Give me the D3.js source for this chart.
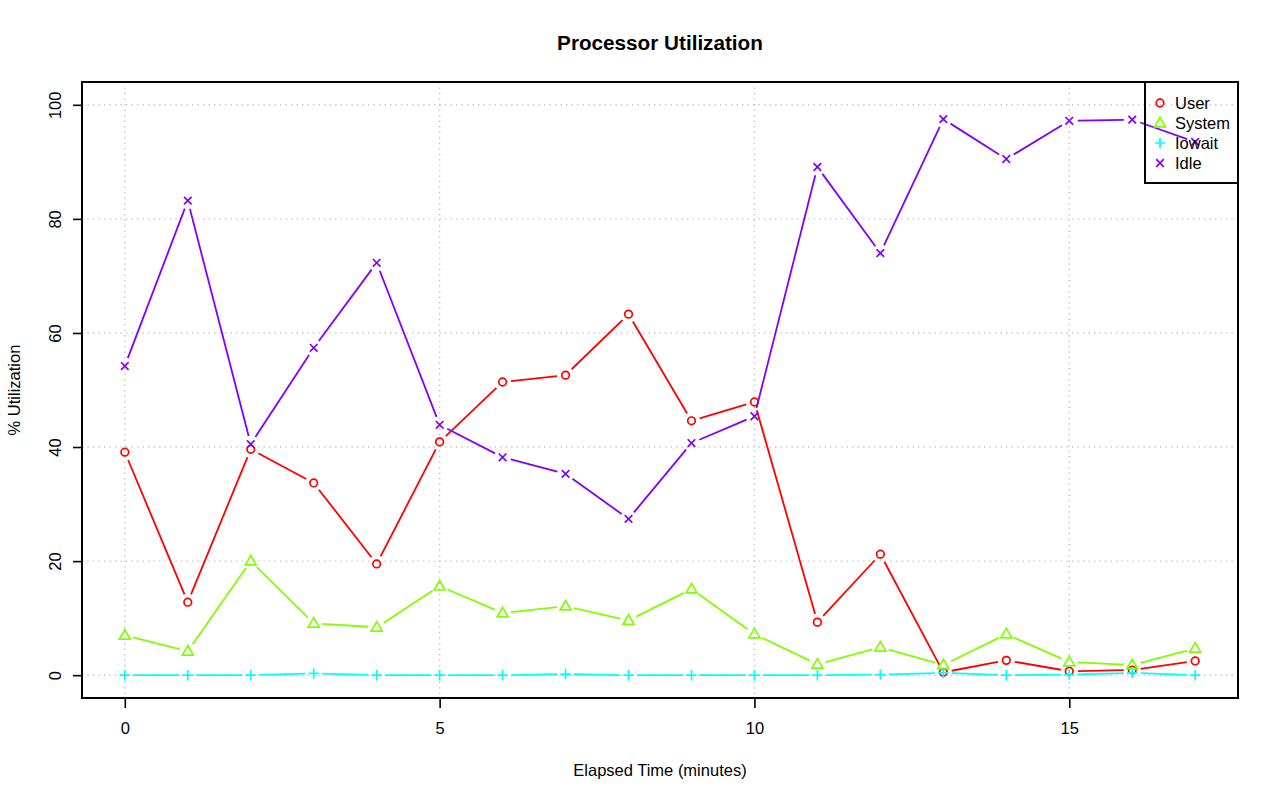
<!DOCTYPE html>
<html>
<head>
<meta charset="utf-8">
<script src="https://cdn.jsdelivr.net/npm/d3@7"></script>
<style>
  html, body { margin: 0; padding: 0; background: #fff; }
  svg { display: block; font-family: "Liberation Sans", Arial, Helvetica, sans-serif; }
</style>
</head>
<body>
<svg id="chart" width="1280" height="801"></svg>
<script>
const minutes = [0,1,2,3,4,5,6,7,8,9,10,11,12,13,14,15,16,17];
const userVals   = [39.1,12.8,39.6,33.7,19.5,40.9,51.4,52.6,63.3,44.6,47.9,9.3,21.2,0.5,2.6,0.7,0.9,2.5];
const systemVals = [7.0,4.2,20.0,9.1,8.4,15.6,10.9,12.1,9.6,15.1,7.2,1.9,4.9,1.8,7.2,2.3,1.8,4.7];
const iowaitVals = [0.0,0.0,0.0,0.3,0.0,0.0,0.0,0.2,0.0,0.0,0.0,0.0,0.1,0.4,0.0,0.1,0.4,0.0];
const idleVals   = [54.2,83.2,40.5,57.4,72.3,43.9,38.2,35.3,27.4,40.7,45.4,89.1,74.0,97.5,90.5,97.2,97.4,93.5];
const seriesNames = ["User","System","Iowait","Idle"];
const seriesColors = ["#FF0000","#80FF00","#00FFFF","#8000FF"];
const seriesShapes = ["circle","triangle","plus","cross"];
const xTicks = [0,5,10,15];
const yTicks = [0,20,40,60,80,100];

const series = [userVals, systemVals, iowaitVals, idleVals].map((vals, i) => ({
  name: seriesNames[i], color: seriesColors[i], shape: seriesShapes[i],
  points: minutes.map((m, j) => ({x: m, y: vals[j]}))
}));

const svg = d3.select("#chart");
const L = 82, R = 1238, T = 82, B = 698;

const x = d3.scaleLinear().domain([-0.68, 17.68]).range([L, R]);
const y = d3.scaleLinear().domain([-4, 104]).range([B, T]);

// grid
const grid = svg.append("g");
grid.selectAll("line.gx").data(xTicks).join("line")
  .attr("x1", d => x(d)).attr("x2", d => x(d)).attr("y1", T).attr("y2", B)
  .attr("stroke", "#c8c8c8").attr("stroke-width", 1.4).attr("stroke-dasharray", "1.4,4.1");
grid.selectAll("line.gy").data(yTicks).join("line")
  .attr("x1", L).attr("x2", R).attr("y1", d => y(d)).attr("y2", d => y(d))
  .attr("stroke", "#c8c8c8").attr("stroke-width", 1.4).attr("stroke-dasharray", "1.4,4.1");

// axes
const xAxis = svg.append("g").attr("transform", `translate(0,${B})`)
  .call(d3.axisBottom(x).tickValues(xTicks).tickSize(10).tickPadding(14).tickFormat(d3.format("d")));
xAxis.select(".domain").remove();
xAxis.selectAll("line").attr("stroke", "#000").attr("stroke-width", 1.6);
xAxis.selectAll("text").attr("font-size", 16.5).attr("fill", "#000").attr("font-family", "Liberation Sans, Arial, sans-serif");

const yAxis = svg.append("g").attr("transform", `translate(${L},0)`)
  .call(d3.axisLeft(y).tickValues(yTicks).tickSize(9).tickFormat(d3.format("d")));
yAxis.select(".domain").remove();
yAxis.selectAll("line").attr("stroke", "#000").attr("stroke-width", 1.6);
yAxis.selectAll("text")
  .attr("font-size", 16.5).attr("fill", "#000").attr("font-family", "Liberation Sans, Arial, sans-serif")
  .attr("x", 0).attr("dy", null)
  .attr("text-anchor", "middle")
  .attr("dominant-baseline", "central")
  .attr("transform", "translate(-27,0) rotate(-90)");

// series lines with gaps (R type="b")
const gap = 8.5;
const lineG = svg.append("g");
series.forEach(s => {
  const segs = [];
  for (let i = 0; i < s.points.length - 1; i++) {
    const x1 = x(s.points[i].x), y1 = y(s.points[i].y);
    const x2 = x(s.points[i+1].x), y2 = y(s.points[i+1].y);
    const len = Math.hypot(x2 - x1, y2 - y1);
    if (len > 2 * gap) {
      const ux = (x2 - x1) / len, uy = (y2 - y1) / len;
      segs.push([x1 + ux * gap, y1 + uy * gap, x2 - ux * gap, y2 - uy * gap]);
    }
  }
  lineG.append("g").selectAll("line").data(segs).join("line")
    .attr("x1", d => d[0]).attr("y1", d => d[1]).attr("x2", d => d[2]).attr("y2", d => d[3])
    .attr("stroke", s.color).attr("stroke-width", 1.8);
  drawPoints(lineG.append("g"), s.points.map(p => [x(p.x), y(p.y)]), s.shape, s.color);
});

function drawPoints(g, pts, shape, color) {
  pts.forEach(([px, py]) => drawSymbol(g, px, py, shape, color));
}
function drawSymbol(g, px, py, shape, color) {
  const sw = 1.7;
  if (shape === "circle") {
    g.append("circle").attr("cx", px).attr("cy", py).attr("r", 3.8)
      .attr("fill", "none").attr("stroke", color).attr("stroke-width", sw);
  } else if (shape === "triangle") {
    const h = 9.5, w = 11;
    g.append("path").attr("d", `M${px},${py - h*0.6} L${px + w/2},${py + h*0.4} L${px - w/2},${py + h*0.4} Z`)
      .attr("fill", "none").attr("stroke", color).attr("stroke-width", sw);
  } else if (shape === "plus") {
    const a = 5.2;
    g.append("path").attr("d", `M${px - a},${py} L${px + a},${py} M${px},${py - a} L${px},${py + a}`)
      .attr("stroke", color).attr("stroke-width", sw);
  } else if (shape === "cross") {
    const a = 3.8;
    g.append("path").attr("d", `M${px - a},${py - a} L${px + a},${py + a} M${px - a},${py + a} L${px + a},${py - a}`)
      .attr("stroke", color).attr("stroke-width", sw);
  }
}

// box
svg.append("rect").attr("x", L).attr("y", T).attr("width", R - L).attr("height", B - T)
  .attr("fill", "none").attr("stroke", "#000").attr("stroke-width", 2);

// legend
const lg = svg.append("g");
lg.append("rect").attr("x", 1145).attr("y", T).attr("width", R - 1145).attr("height", 101)
  .attr("fill", "none").attr("stroke", "#000").attr("stroke-width", 2);
series.forEach((s, i) => {
  const cy = 103 + i * 20;
  drawSymbol(lg, 1160, cy, s.shape, s.color);
  lg.append("text").attr("x", 1175).attr("y", cy).attr("dominant-baseline", "central")
    .attr("font-size", 16.5).attr("fill", "#000").text(s.name);
});

// titles
svg.append("text").attr("x", 660).attr("y", 42).attr("text-anchor", "middle")
  .attr("dominant-baseline", "central").attr("font-size", 20.7).attr("font-weight", "bold")
  .text("Processor Utilization");
svg.append("text").attr("x", 660).attr("y", 770).attr("text-anchor", "middle")
  .attr("dominant-baseline", "central").attr("font-size", 16.5)
  .text("Elapsed Time (minutes)");
svg.append("text").attr("transform", "translate(14,390) rotate(-90)").attr("text-anchor", "middle")
  .attr("dominant-baseline", "central").attr("font-size", 16.5)
  .text("% Utilization");
</script>
</body>
</html>
